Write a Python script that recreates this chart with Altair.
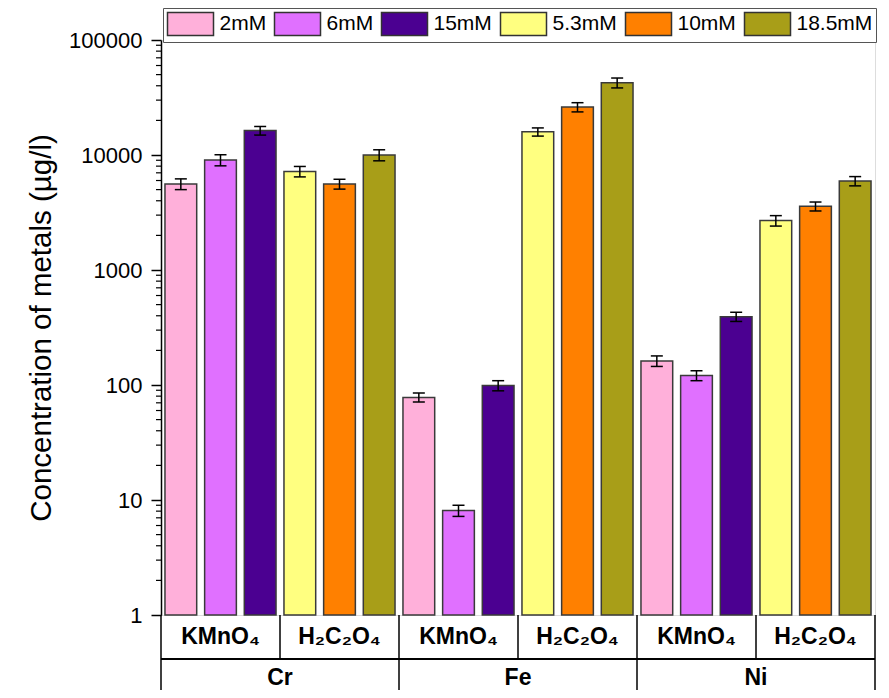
import altair as alt
import pandas as pd

metals = ["Cr", "Fe", "Ni"]
reagents = ["KMnO₄", "H₂C₂O₄"]
conc_kmno4 = ["2mM", "6mM", "15mM"]
conc_h2c2o4 = ["5.3mM", "10mM", "18.5mM"]
colors = ["#FFB0DA", "#E070FF", "#4B0091", "#FFFF80", "#FF8000", "#A89E18"]

# values per metal: KMnO4 (2, 6, 15 mM) then H2C2O4 (5.3, 10, 18.5 mM)
cr_vals = [5600, 9050, 16300, 7200, 5600, 10000]
cr_err = [600, 1000, 1400, 750, 550, 1100]
fe_vals = [78, 8.1, 99, 15900, 26100, 42500]
fe_err = [7, 0.9, 10, 1300, 2400, 4200]
ni_vals = [162, 121, 393, 2690, 3580, 5940]
ni_err = [17, 12, 36, 280, 320, 550]

vals = {"Cr": cr_vals, "Fe": fe_vals, "Ni": ni_vals}
errs = {"Cr": cr_err, "Fe": fe_err, "Ni": ni_err}
conc_order = conc_kmno4 + conc_h2c2o4

rows = []
for mi, m in enumerate(metals):
    for ri, r in enumerate(reagents):
        concs = conc_kmno4 if ri == 0 else conc_h2c2o4
        for ci, c in enumerate(concs):
            k = ri * 3 + ci
            idx = mi * 6 + k
            v = vals[m][k]
            e = errs[m][k]
            rows.append(dict(metal=m, reagent=r, conc=c, xc=idx,
                             x0=idx - 0.4, x1=idx + 0.4,
                             value=v, lo=v - e, hi=v + e))
df = pd.DataFrame(rows)

reag_df = pd.DataFrame([dict(label=r, xc=mi * 6 + ri * 3 + 1)
                        for mi in range(len(metals)) for ri, r in enumerate(reagents)])
metal_df = pd.DataFrame([dict(label=m, xc=mi * 6 + 2.5) for mi, m in enumerate(metals)])
sep1 = pd.DataFrame(dict(xs=[i * 3 - 0.5 for i in range(len(metals) * 2 + 1)]))
sep2 = pd.DataFrame(dict(xs=[i * 6 - 0.5 for i in range(len(metals) + 1)]))
minor = pd.DataFrame(dict(v=[m * 10 ** k for k in range(5) for m in range(2, 10)]))

xscale = alt.Scale(domain=[-0.5, 17.5], nice=False, zero=False)
yscale = alt.Scale(type="log", domain=[1, 100000], nice=False)
FONT = "Liberation Sans"

bars = alt.Chart(df).mark_bar(stroke="#3a3a3a", strokeWidth=1.5).encode(
    x=alt.X("x0:Q", scale=xscale, axis=None),
    x2="x1:Q",
    y=alt.Y("value:Q", scale=yscale,
            axis=alt.Axis(values=[1, 10, 100, 1000, 10000, 100000], format="d",
                          labelFontSize=22, labelColor="black", labelFont=FONT,
                          tickSize=10, tickWidth=1.5, tickColor="black",
                          domainColor="black", domainWidth=1.5, labelPadding=9,
                          grid=False, title="Concentration of metals (µg/l)",
                          titleFontSize=29.5, titleFontWeight="normal",
                          titleColor="black", titleFont=FONT, titlePadding=12)),
    y2=alt.datum(1),
    fill=alt.Fill("conc:N", sort=conc_order,
                  scale=alt.Scale(domain=conc_order, range=colors),
                  legend=alt.Legend(title=None, orient="none", legendX=2, legendY=-32,
                                    direction="horizontal", columns=6,
                                    symbolType="M-1,-1H3V1H-1Z", symbolSize=529,
                                    symbolStrokeColor="#333", symbolStrokeWidth=1.5,
                                    labelFontSize=21, labelFont=FONT, labelColor="black",
                                    labelOffset=28, columnPadding=5, padding=3.5,
                                    strokeColor="#555", fillColor="white",
                                    labelLimit=0)),
)

err_rule = alt.Chart(df).mark_rule(color="black", strokeWidth=1.5).encode(
    x=alt.X("xc:Q", scale=xscale), y=alt.Y("lo:Q", scale=yscale), y2="hi:Q")
cap_hi = alt.Chart(df).mark_tick(orient="horizontal", size=12, thickness=1.5,
                                 color="black", opacity=1).encode(
    x=alt.X("xc:Q", scale=xscale), y=alt.Y("hi:Q", scale=yscale))
cap_lo = alt.Chart(df).mark_tick(orient="horizontal", size=12, thickness=1.5,
                                 color="black", opacity=1).encode(
    x=alt.X("xc:Q", scale=xscale), y=alt.Y("lo:Q", scale=yscale))

minor_ticks = alt.Chart(minor).mark_rule(color="black", strokeWidth=1.2).encode(
    x=alt.value(-5), x2=alt.value(0), y=alt.Y("v:Q", scale=yscale))

v1 = alt.Chart(sep1).mark_rule(color="black", strokeWidth=1.5).encode(
    x=alt.X("xs:Q", scale=xscale), y=alt.value(575), y2=alt.value(619))
v2 = alt.Chart(sep2).mark_rule(color="black", strokeWidth=1.5).encode(
    x=alt.X("xs:Q", scale=xscale), y=alt.value(619), y2=alt.value(660))
hline = alt.Chart(sep2).mark_rule(color="black", strokeWidth=1.5).encode(
    x=alt.datum(-0.5), x2=alt.datum(17.5), y=alt.value(619))

reag_text = alt.Chart(reag_df).mark_text(font=FONT, fontSize=23, fontWeight="bold",
                                         baseline="middle", color="black").encode(
    x=alt.X("xc:Q", scale=xscale), y=alt.value(597), text="label:N")
metal_text = alt.Chart(metal_df).mark_text(font=FONT, fontSize=23, fontWeight="bold",
                                           baseline="middle", color="black").encode(
    x=alt.X("xc:Q", scale=xscale), y=alt.value(638), text="label:N")

chart = alt.layer(bars, err_rule, cap_hi, cap_lo, minor_ticks, v1, v2, hline,
                  reag_text, metal_text).properties(
    width=714, height=575,
    autosize=alt.AutoSizeParams(type="none"),
    padding={"left": 153, "top": 32, "right": 6, "bottom": 75},
).configure_view(stroke="black", strokeWidth=1.5).configure(font=FONT)

chart.save("out.html", embed_options={"renderer": "svg", "actions": False})
